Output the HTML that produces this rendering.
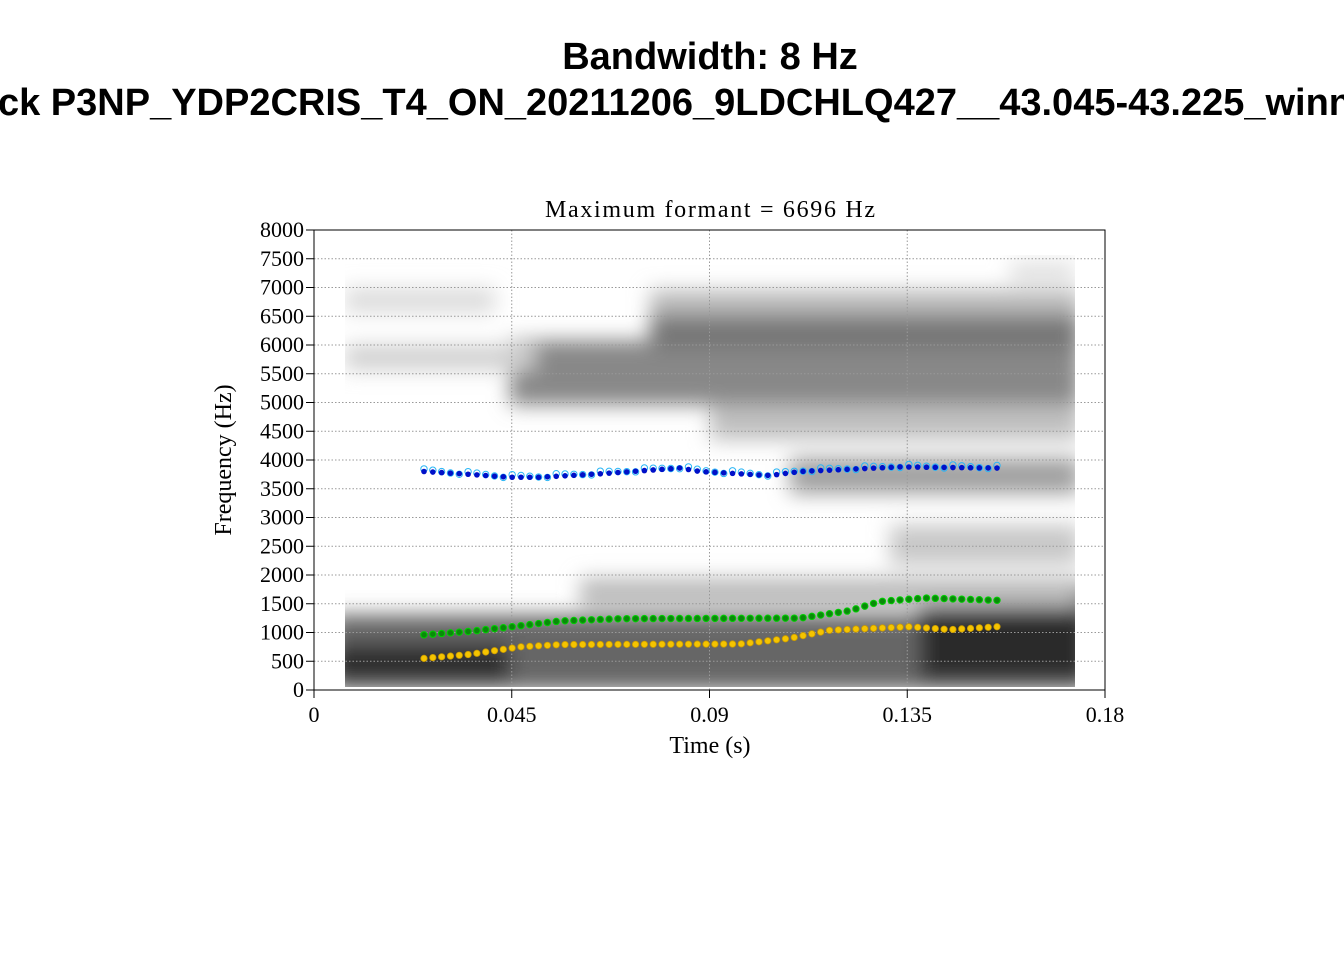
<!DOCTYPE html>
<html><head><meta charset="utf-8"><style>
html,body{margin:0;padding:0;background:#fff;width:1344px;height:960px;overflow:hidden}
</style></head><body>
<svg id="s" width="1344" height="960" xmlns="http://www.w3.org/2000/svg">
<defs>
<filter id="b" x="-20%" y="-50%" width="140%" height="200%"><feGaussianBlur stdDeviation="10"/></filter>
<clipPath id="c"><rect x="345" y="255" width="730" height="432"/></clipPath>
</defs>
<text x="710" y="69" text-anchor="middle" font-family="Liberation Sans, sans-serif" font-weight="bold" font-size="38">Bandwidth: 8 Hz</text>
<text x="675" y="115" text-anchor="middle" font-family="Liberation Sans, sans-serif" font-weight="bold" font-size="38">ck P3NP_YDP2CRIS_T4_ON_20211206_9LDCHLQ427__43.045-43.225_winn</text>
<g clip-path="url(#c)"><g filter="url(#b)">
<rect x="330" y="615" width="760" height="75" fill="#666"/>
<rect x="330" y="645" width="180" height="35" fill="#2a2a2a"/>
<rect x="920" y="585" width="170" height="95" fill="#2a2a2a"/>
<rect x="580" y="578" width="500" height="30" fill="#bbb"/>
<rect x="890" y="525" width="190" height="40" fill="#c8c8c8"/>
<rect x="790" y="458" width="290" height="36" fill="#a0a0a0"/>
<rect x="710" y="405" width="370" height="35" fill="#c0c0c0"/>
<rect x="510" y="340" width="570" height="65" fill="#888"/>
<rect x="650" y="315" width="430" height="35" fill="#777"/>
<rect x="650" y="290" width="430" height="25" fill="#bbb"/>
<rect x="345" y="345" width="190" height="25" fill="#d0d0d0"/>
<rect x="345" y="288" width="150" height="25" fill="#dcdcdc"/>
<rect x="1010" y="262" width="65" height="20" fill="#e0e0e0"/>
</g></g>
<g id="grid" stroke="#999" stroke-dasharray="1.5,2" stroke-width="1"></g>
<rect x="314" y="230" width="791" height="460" fill="none" stroke="#000" stroke-width="1"/>
<g id="ax" font-family="Liberation Serif, serif" font-size="22"></g>
<text x="710" y="217" text-anchor="middle" font-family="Liberation Serif, serif" font-size="24" textLength="330" lengthAdjust="spacing">Maximum formant  =  6696 Hz</text>
<text x="710" y="753" text-anchor="middle" font-family="Liberation Serif, serif" font-size="24">Time (s)</text>
<text transform="translate(231,460) rotate(-90)" text-anchor="middle" font-family="Liberation Serif, serif" font-size="24">Frequency (Hz)</text>
<g id="pts"></g>
</svg>
<script>
var NS="http://www.w3.org/2000/svg";
function el(p,t,a,txt){var e=document.createElementNS(NS,t);for(var k in a)e.setAttribute(k,a[k]);if(txt!=null)e.textContent=txt;document.getElementById(p).appendChild(e);return e;}
function Y(f){return 690-f*460/8000;}
for(var f=500;f<8000;f+=500){el("grid","line",{x1:314,x2:1105,y1:Y(f),y2:Y(f)});}
[0.045,0.09,0.135].forEach(function(t){var x=314+t/0.18*791;el("grid","line",{x1:x,x2:x,y1:230,y2:690});});
for(var f=0;f<=8000;f+=500){var y=Y(f);el("ax","line",{x1:306,x2:314,y1:y,y2:y,stroke:"#000"});el("ax","text",{x:304,y:y+7,"text-anchor":"end"},String(f));}
[["0",0],["0.045",0.045],["0.09",0.09],["0.135",0.135],["0.18",0.18]].forEach(function(a){var x=314+a[1]/0.18*791;el("ax","line",{x1:x,x2:x,y1:690,y2:698,stroke:"#000"});el("ax","text",{x:x,y:722,"text-anchor":"middle"},a[0]);});
function interp(pts,x){for(var i=0;i<pts.length-1;i++){if(x<=pts[i+1][0]){var t=(x-pts[i][0])/(pts[i+1][0]-pts[i][0]);return pts[i][1]+t*(pts[i+1][1]-pts[i][1]);}}return pts[pts.length-1][1];}
var F1=[[424,550],[470,620],[520,750],[560,790],[740,800],[790,900],[830,1040],[910,1100],[950,1050],[997,1100]];
var F2=[[424,960],[470,1020],[512,1100],[560,1200],[620,1240],[800,1250],[850,1380],[880,1540],[925,1600],[997,1560]];
var F3=[[424,3800],[470,3750],[510,3700],[540,3700],[600,3760],[680,3860],[700,3800],[740,3760],[770,3730],[800,3800],[900,3880],[997,3860]];
var n=66;
for(var i=0;i<n;i++){var x=424+i*(573/(n-1));
var y1=Y(interp(F1,x)),y2=Y(interp(F2,x)),y3=Y(interp(F3,x));
el("pts","circle",{cx:x,cy:y1,r:3.2,fill:"#f5c400",stroke:"#c99a00","stroke-width":0.8});
el("pts","circle",{cx:x,cy:y2,r:3.2,fill:"#0a8a0a",stroke:"#00d000","stroke-width":1});
el("pts","circle",{cx:x,cy:y3+(i%5-2)*0.8-1,r:3.2,fill:"none",stroke:"#29b6f6","stroke-width":1});
el("pts","circle",{cx:x,cy:y3,r:2.8,fill:"#0010c8"});}
</script>
</body></html>
